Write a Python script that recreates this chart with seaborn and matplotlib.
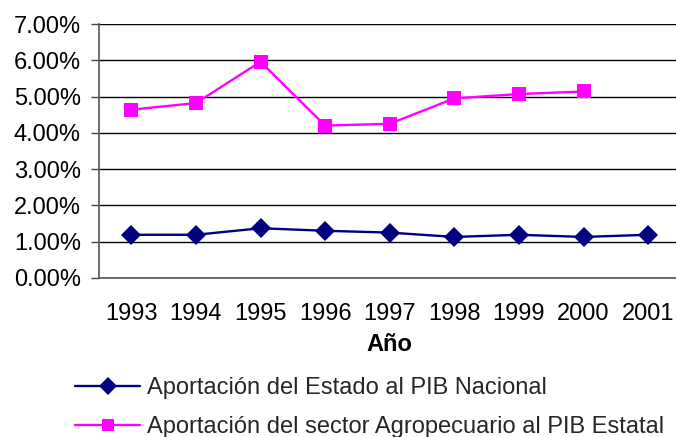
import numpy as np
import pandas as pd
import matplotlib
matplotlib.use("Agg")
import matplotlib.pyplot as plt
import seaborn as sns
from matplotlib.ticker import FuncFormatter
from matplotlib.lines import Line2D

years = ["1993", "1994", "1995", "1996", "1997", "1998", "1999", "2000", "2001"]
estado_nacional = [1.19, 1.19, 1.37, 1.30, 1.25, 1.13, 1.19, 1.13, 1.19]
agro_estatal = [4.64, 4.82, 5.96, 4.20, 4.25, 4.95, 5.07, 5.14, np.nan]
series_names = ["Aportación del Estado al PIB Nacional",
                "Aportación del sector Agropecuario al PIB Estatal"]

sns.set_theme(style="white")
plt.rcParams['font.family'] = ['Liberation Sans', 'DejaVu Sans']

df = pd.DataFrame({
    "x": list(range(len(years))) * 2,
    "value": estado_nacional + agro_estatal,
    "serie": [series_names[0]] * len(years) + [series_names[1]] * len(years),
})

fig = plt.figure(figsize=(6.76, 4.37), dpi=100)
ax = fig.add_axes([0.1465, 0.364, 0.86, 0.581])

palette = {series_names[0]: "#000080", series_names[1]: "#FF00FF"}
markers = {series_names[0]: "D", series_names[1]: "s"}
sns.lineplot(data=df, x="x", y="value", hue="serie", style="serie",
             palette=palette, markers=markers, dashes=False,
             markersize=10, linewidth=1.7, markeredgewidth=0, ax=ax, legend=False)

ax.set_xlim(-0.5, len(years) - 0.5)
ax.set_ylim(0, 7)
ax.set_yticks(np.arange(0, 7.01, 1))
ax.yaxis.set_major_formatter(FuncFormatter(lambda v, p: f"{v:.2f}%"))
ax.set_xticks(range(len(years)))
ax.set_xticklabels(years)
ax.set_xticks(np.arange(-0.5, len(years), 1), minor=True)
ax.tick_params(axis="x", which="major", length=0, pad=18, labelsize=17, colors="black")
ax.tick_params(axis="x", which="minor", length=6, width=1, color="#444444", direction="out")
ax.tick_params(axis="y", which="major", length=6, width=1, color="#444444", direction="out",
               labelsize=17, pad=7, left=True, labelcolor="black")
ax.grid(axis="y", color="black", linewidth=1)
ax.set_axisbelow(True)
for s in ["top", "right"]:
    ax.spines[s].set_visible(False)
for s in ["left", "bottom"]:
    ax.spines[s].set_color("#555555")
    ax.spines[s].set_linewidth(1.2)
ax.set_xlabel("Año", fontsize=17, fontweight="bold", labelpad=6, color="black")
ax.set_ylabel("")

handles = [Line2D([], [], color=palette[n], marker=markers[n], markersize=9,
                  markeredgewidth=0, linewidth=1.7) for n in series_names]
fig.legend(handles, series_names, loc="lower left", bbox_to_anchor=(0.08, -0.052),
           frameon=False, fontsize=17, handlelength=2.75, handletextpad=0.3,
           labelspacing=0.75)

fig.savefig("out.png", dpi=100)
